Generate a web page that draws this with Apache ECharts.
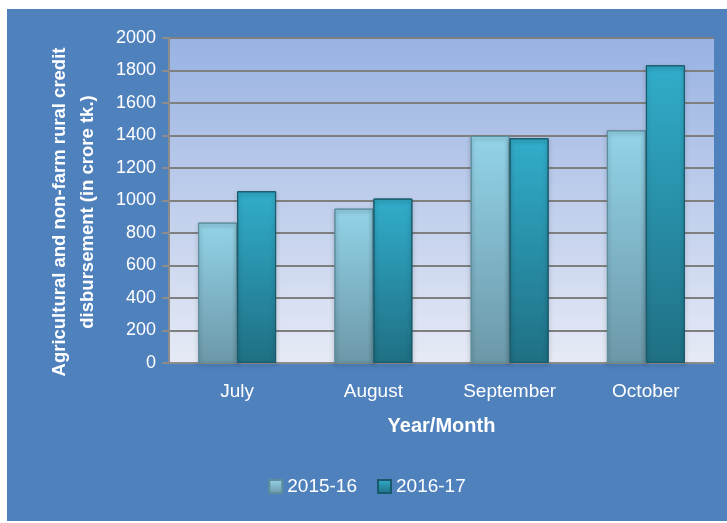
<!DOCTYPE html>
<html>
<head>
<meta charset="utf-8">
<title>Credit disbursement</title>
<script src="https://cdn.jsdelivr.net/npm/echarts@6/dist/echarts.min.js"></script>
<style>
  body { margin: 0; background: #ffffff; }
  #main { position: absolute; left: 7px; top: 9px; width: 720px; height: 512px; }
</style>
</head>
<body>
<div id="main"></div>
<script>
// data
var months = ['July', 'August', 'September', 'October'];
var year1 = [864, 950, 1397, 1432];   // 2015-16
var year2 = [1057, 1012, 1383, 1832]; // 2016-17
var yTicks = { min: 0, max: 2000, interval: 200 };

var chart = echarts.init(document.getElementById('main'));

function grad(top, bottom) {
  return new echarts.graphic.LinearGradient(0, 0, 0, 1, [
    { offset: 0, color: top },
    { offset: 1, color: bottom }
  ]);
}

var option = {
  backgroundColor: '#4F81BD',
  textStyle: { fontFamily: 'Liberation Sans, Arial, sans-serif' },
  grid: {
    left: 162, right: 13, top: 29, bottom: 158,
    show: true,
    borderWidth: 0,
    backgroundColor: grad('#98B2E2', '#E6EAF5')
  },
  legend: {
    data: ['2015-16', '2016-17'],
    bottom: 20,
    left: 'center',
    icon: 'rect',
    itemWidth: 13, itemHeight: 13, itemGap: 20,
    textStyle: { color: '#ffffff', fontSize: 19 }
  },
  graphic: [{
    type: 'text',
    x: 67, y: 203,
    rotation: Math.PI / 2,
    style: {
      text: 'Agricultural and non-farm rural credit\ndisbursement (in crore tk.)',
      fill: '#ffffff',
      font: 'bold 18.5px Liberation Sans, Arial, sans-serif',
      lineHeight: 28,
      align: 'center',
      verticalAlign: 'middle'
    }
  }],
  xAxis: {
    type: 'category',
    data: months,
    name: 'Year/Month',
    nameLocation: 'middle',
    nameGap: 53,
    nameTextStyle: { color: '#ffffff', fontSize: 20, fontWeight: 'bold' },
    axisLine: { lineStyle: { color: '#8C8C8C', width: 2 } },
    axisTick: { show: false },
    axisLabel: { color: '#ffffff', fontSize: 19, margin: 19 }
  },
  yAxis: {
    type: 'value',
    min: yTicks.min, max: yTicks.max, interval: yTicks.interval,
    axisLine: { show: true, lineStyle: { color: '#8C8C8C', width: 2 } },
    axisTick: { show: true, length: 7, lineStyle: { color: '#8C8C8C', width: 2 } },
    axisLabel: { color: '#ffffff', fontSize: 18, margin: 13, formatter: function (v) { return String(v); } },
    splitLine: { lineStyle: { color: '#7F7F7F', width: 2 } }
  },
  series: [
    {
      name: '2015-16',
      type: 'bar',
      data: year1,
      barWidth: 39,
      barGap: '0%',
      itemStyle: {
        color: grad('#93D3E8', '#6C98A8'),
        borderColor: '#5E8E9C',
        borderWidth: 1,
        shadowColor: 'rgba(0,0,0,0.35)',
        shadowBlur: 4,
        shadowOffsetY: 2
      }
    },
    {
      name: '2016-17',
      type: 'bar',
      data: year2,
      barWidth: 39,
      itemStyle: {
        color: grad('#31ADCB', '#1F6F83'),
        borderColor: '#185A6B',
        borderWidth: 1,
        shadowColor: 'rgba(0,0,0,0.35)',
        shadowBlur: 4,
        shadowOffsetY: 2
      }
    }
  ]
};
chart.setOption(option);
window.onresize = function () { chart.resize(); };
</script>
</body>
</html>
